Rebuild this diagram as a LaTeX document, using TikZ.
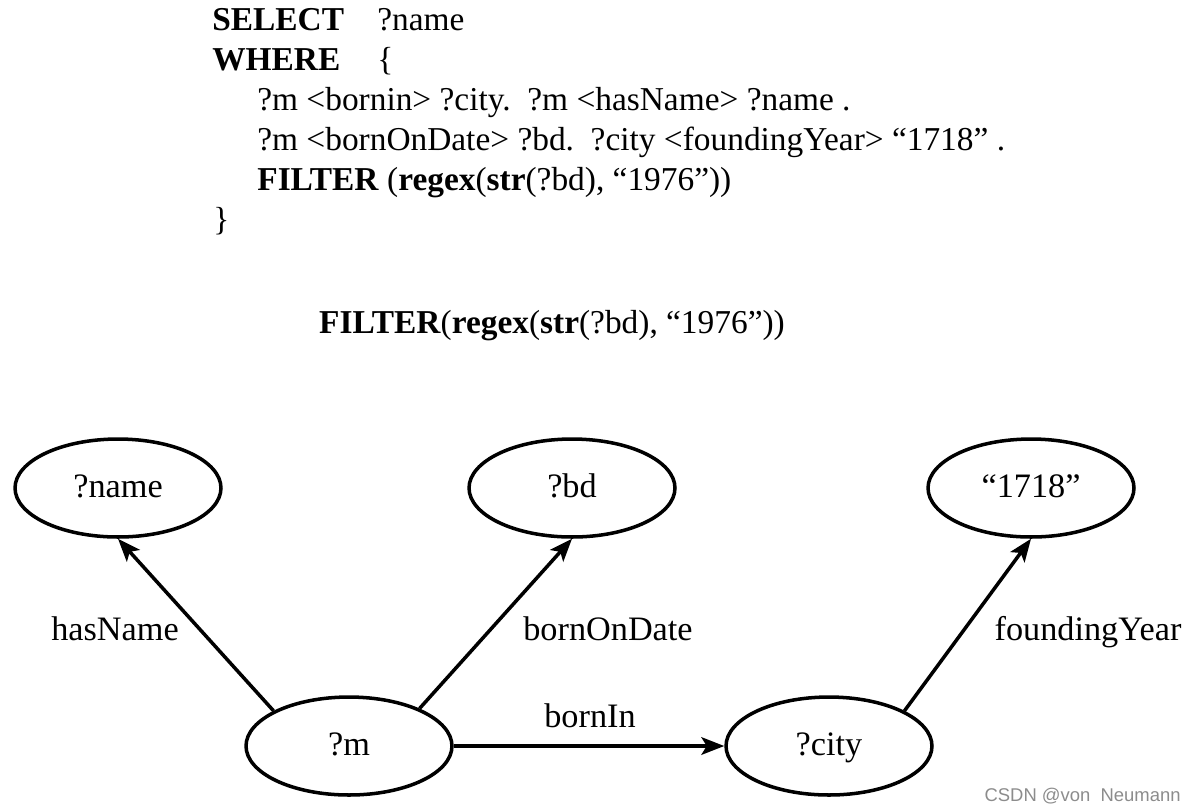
\documentclass[tikz,border=0pt]{standalone}
\usepackage{fontspec}
\setmainfont{Liberation Serif}
\newfontfamily\marksans{Liberation Sans}
\usetikzlibrary{shapes.geometric, arrows.meta}
\tikzstyle{var} = [ellipse, 
minimum width=4.12cm, 
minimum height=1.96cm, 
text height=1.1em, 
text depth=0pt, 
draw=black, 
line width=2pt,
font=\fontsize{19.5}{23}\selectfont]
\tikzstyle{code} = [anchor=base west, 
inner sep=0pt, 
font=\fontsize{19}{22}\selectfont]
\tikzstyle{edgelabel} = [anchor=base, 
inner sep=0pt, 
font=\fontsize{19.5}{23}\selectfont]
\tikzstyle{arrow} = [line width=2pt,-{Stealth[length=13pt, width=10pt, inset=3pt]}]

\begin{document}
\begin{tikzpicture}[x=0.02cm, y=-0.02cm]
  \useasboundingbox (0,0) rectangle (1195,809);
  % query text
  \node (select) [code] at (212,30) {\textbf{SELECT}};
  \node (selvar) [code] at (377,30) {?name};
  \node (where) [code] at (212,70) {\textbf{WHERE}};
  \node (open) [code] at (377,70) {\{};
  \node (triples) [code] at (257,110) {?m <bornin> ?city.\ \ ?m <hasName> ?name .};
  \node (dates) [code] at (257,150) {?m <bornOnDate> ?bd.\ \ ?city <foundingYear> “1718” .};
  \node (cond) [code] at (257,190) {\textbf{FILTER} (\textbf{regex}(\textbf{str}(?bd), “1976”))};
  \node (close) [code] at (213,230) {\}};

  \node (filter) [code, anchor=base] at (552,333) {\textbf{FILTER}(\textbf{regex}(\textbf{str}(?bd), “1976”))};

  % query graph
  \node (name) [var] at (118,488) {?name};
  \node (bd) [var] at (572,488) {?bd};
  \node (year) [var] at (1031,488) {“1718”};
  \node (m) [var] at (349,746) {?m};
  \node (city) [var] at (829,746) {?city};

  \draw [arrow] (m.155) -- (name.south);
  \draw [arrow] (m.28) -- (bd.south);
  \draw [arrow] (m) -- (city);
  \draw [arrow] (city.25) -- (year.south);

  \node (lblname) [edgelabel] at (115,640) {hasName};
  \node (lblbd) [edgelabel] at (608,640) {bornOnDate};
  \node (lblborn) [edgelabel] at (590,727) {bornIn};
  \node (lblyear) [edgelabel] at (1088,640) {foundingYear};

  \node (mark) [font=\marksans\fontsize{10.5}{12}\selectfont, text=black!45, anchor=base east, inner sep=0pt] at (1181,801) {CSDN @von\ \ Neumann};
\end{tikzpicture}
\end{document}
